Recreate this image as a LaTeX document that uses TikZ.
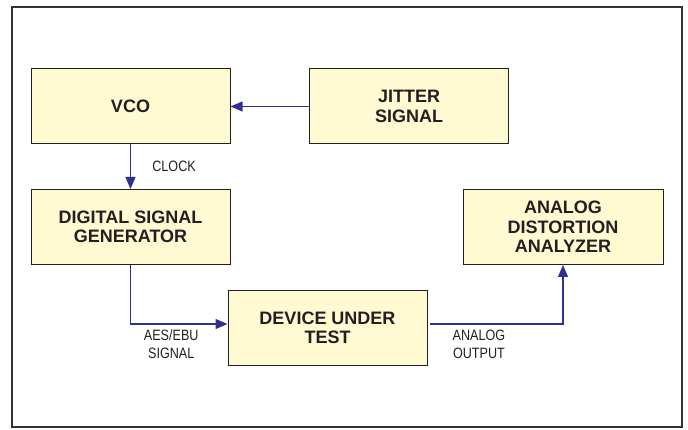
\documentclass[tikz,border=0pt]{standalone}
\usepackage{fontspec}
\setmainfont{Liberation Sans}
\newfontfamily\narrowfont[FakeStretch=0.84]{Liberation Sans}
\usetikzlibrary{positioning,arrows.meta,calc}
\definecolor{inkBlack}{HTML}{231F20}
\definecolor{frameGray}{HTML}{333333}
\definecolor{boxYellow}{HTML}{FFFAD2}
\definecolor{wireBlue}{HTML}{2E3192}
\tikzset{
    block/.style={draw=inkBlack,fill=boxYellow,line width=1pt,
        minimum width=199pt,minimum height=75pt,align=center,
        font=\fontsize{18}{19.5}\selectfont\bfseries,text=inkBlack},
    link/.style={-{Triangle[length=12pt,width=10pt]},draw=wireBlue,line width=1.1pt},
    tag/.style={font=\narrowfont\fontsize{15}{18}\selectfont,text=inkBlack,align=center}
}

\begin{document}
\begin{tikzpicture}[x=1pt,y=-1pt]
        \useasboundingbox (0,0) rectangle (688,430);
        \draw[frameGray,line width=2pt] (12,7) rectangle (682,427);

        \node[block] (vco) at (130.5,106.5) {VCO};
        \node[block] (jitter) at (409,106.5) {JITTER\\SIGNAL};
        \node[block] (dsg) at (130.5,227) {DIGITAL SIGNAL\\GENERATOR};
        \node[block] (dut) at (327.5,328) {DEVICE UNDER\\TEST};
        \node[block,minimum width=200pt] (ada) at (563,227) {ANALOG\\DISTORTION\\ANALYZER};

        \draw[link] (jitter.west) -- (vco.east);
        \draw[link] (vco.south) -- node[tag,midway,right=18pt] {CLOCK} (dsg.north);
        \draw[link] (dsg.south) |- node[tag,pos=0.71,below=2pt] {AES/EBU\\SIGNAL} ([yshift=4pt]dut.west);
        \draw[link,shorten <=2pt] ([yshift=4pt]dut.east) -| node[tag,pos=0.19,below=2pt] {ANALOG\\OUTPUT} (ada.south);
    \end{tikzpicture}
\end{document}
